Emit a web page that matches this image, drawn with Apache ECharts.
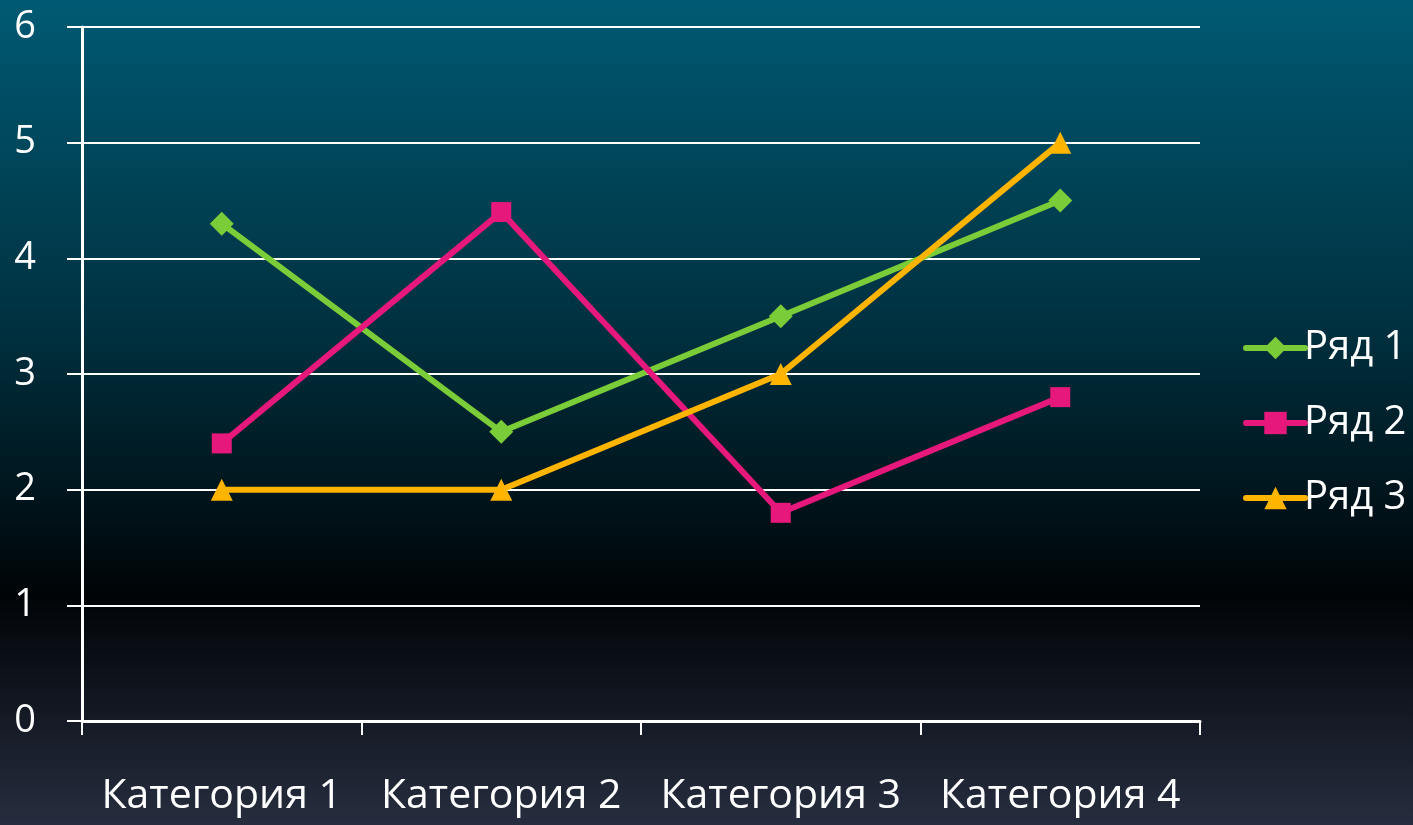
<!DOCTYPE html>
<html>
<head>
<meta charset="utf-8">
<script src="https://cdn.jsdelivr.net/npm/echarts@6/dist/echarts.min.js"></script>
<style>
  html, body { margin: 0; padding: 0; }
  #chart { width: 1413px; height: 825px; }
</style>
</head>
<body>
<div id="chart"></div>
<script>
var categories = ['Категория 1', 'Категория 2', 'Категория 3', 'Категория 4'];
var row1 = [4.3, 2.5, 3.5, 4.5];
var row2 = [2.4, 4.4, 1.8, 2.8];
var row3 = [2, 2, 3, 5];
var seriesNames = ['Ряд 1', 'Ряд 2', 'Ряд 3'];

var myChart = echarts.init(document.getElementById('chart'));
var font = 'Open Sans';

var option = {
	backgroundColor: new echarts.graphic.LinearGradient(0, 0, 0, 1, [
		{ offset: 0, color: '#005a73' },
		{ offset: 0.4, color: '#00303f' },
		{ offset: 0.72, color: '#000407' },
		{ offset: 1, color: '#262d3e' }
	]),
	color: ['#7acd38', '#e6187c', '#ffb400'],
	textStyle: { fontFamily: font },
	legend: {
		data: seriesNames,
		orient: 'vertical',
		left: 1238,
		top: 323,
		itemWidth: 59,
		itemHeight: 28,
		itemGap: 35,
		lineStyle: { width: 6, cap: 'round' },
		textStyle: { color: '#ffffff', fontSize: 40, fontFamily: font, padding: [0, 0, 0, -6] }
	},
	grid: {
		left: 82,
		right: 213,
		top: 27,
		bottom: 104,
		containLabel: false
	},
	xAxis: {
		type: 'category',
		data: categories,
		boundaryGap: true,
		axisLine: { lineStyle: { color: '#ffffff', width: 3 } },
		axisTick: { show: true, alignWithLabel: false, interval: 0, length: 14, lineStyle: { color: '#ffffff', width: 2 } },
		axisLabel: { color: '#ffffff', fontSize: 41, margin: 55, interval: 0, hideOverlap: false }
	},
	yAxis: {
		type: 'value',
		min: 0,
		max: 6,
		interval: 1,
		axisLine: { show: true, lineStyle: { color: '#ffffff', width: 3 } },
		axisTick: { show: true, length: 15, lineStyle: { color: '#ffffff', width: 2 } },
		axisLabel: { color: '#ffffff', fontSize: 38, margin: 46 },
		splitLine: { lineStyle: { color: '#ffffff', width: 2 } }
	},
	series: [{
		name: seriesNames[0],
		type: 'line',
		data: row1,
		symbol: 'diamond',
		symbolSize: 24,
		lineStyle: { width: 6 }
	}, {
		name: seriesNames[1],
		type: 'line',
		data: row2,
		symbol: 'rect',
		symbolSize: 20,
		lineStyle: { width: 6 }
	}, {
		name: seriesNames[2],
		type: 'line',
		data: row3,
		symbol: 'triangle',
		symbolSize: 22,
		lineStyle: { width: 6 }
	}]
};
myChart.setOption(option);
</script>
</body>
</html>
